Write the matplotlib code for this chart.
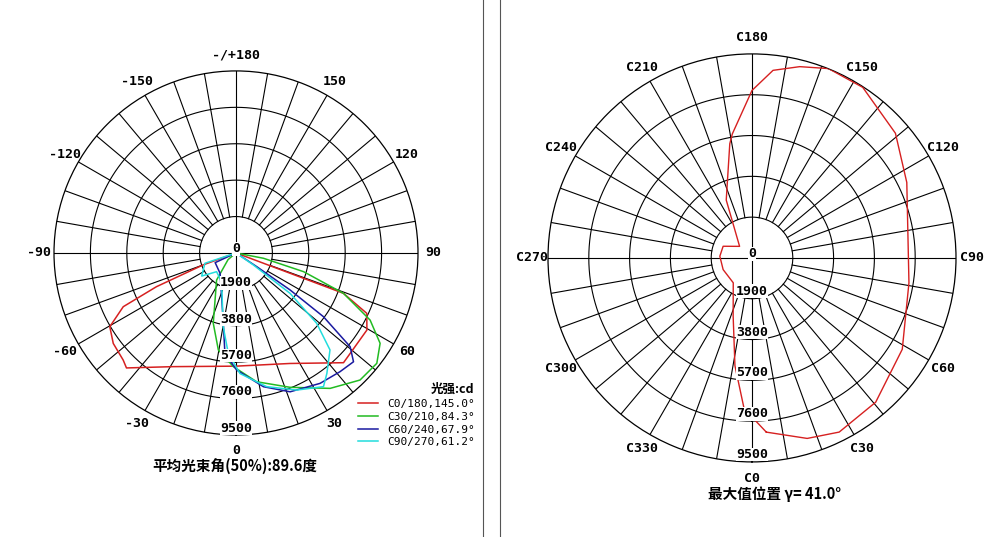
import numpy as np
import matplotlib
matplotlib.use("Agg")
import matplotlib.pyplot as plt

plt.rcParams['font.family'] = ['Noto Sans CJK SC', 'DejaVu Sans']

# ---- data (angles in degrees, intensity in cd) ----
red_ang = [-90, -70, -67, -64.5, -59.7, -53.6, -46.5, -43.6, -28.9, 0, 26, 44.4, 48.6, 59.5, 65.2, 69.4, 69.4, 90]
red_val = [0, 1820, 4510, 6520, 7630, 7960, 8120, 8290, 6780, 5910, 6420, 8020, 7940, 7930, 7520, 5990, 3020, 0]
green_ang = [-90, -50, -35.6, -17.9, -10.3, -1.3, 9.1, 21.9, 34.8, 44.3, 51.9, 57.9, 63.4, 69.4, 74.5, 79, 90]
green_val = [0, 540, 1740, 3860, 5150, 5940, 6810, 7560, 8610, 9270, 9340, 8880, 7830, 5990, 3660, 1460, 0]
blue_ang = [-90, -65, -38, -10.2, -6.3, 0.3, 11.6, 21.3, 32.8, 41.2, 47.2, 50.6, 53.9, 55.6, 56.5, 90]
blue_val = [0, 1200, 1350, 3730, 5280, 6110, 7130, 7780, 8100, 8240, 8360, 7710, 5650, 3420, 1300, 0]
cyan_ang = [-90, -71.6, -56, -46, -26.6, -9.8, -4.4, 1.9, 12.9, 23.9, 33.2, 37, 44.1, 48.9, 53.2, 55.3, 90]
cyan_val = [0, 1710, 2160, 1410, 1680, 3910, 5260, 6300, 7160, 7830, 8340, 7880, 7050, 5590, 3530, 1100, 0]
series_names = ["C0/180,145.0°", "C30/210,84.3°", "C60/240,67.9°", "C90/270,61.2°"]
series_colors = ["#d62020", "#22bb22", "#1a1aa0", "#22dddd"]

iso_ang = [4.7, 17, 26.6, 40.6, 58.7, 81, 116, 131, 147, 158, 166, 173.6, 180, 189, 191, 204, 227,
           248, 267, 292, 323, 342, 351, 357, 364.7]
iso_val = [8140, 8790, 9070, 8850, 8190, 7400, 8020, 8850, 9470, 9510, 9180, 8790, 7800, 5850, 5420,
           2950, 790, 1450, 1500, 1450, 1450, 2840, 5080, 7030, 8140]

rings = [1900, 3800, 5700, 7600, 9500]
left_ticks = ["0", "30", "60", "90", "120", "150", "-/+180", "-150", "-120", "-90", "-60", "-30"]
right_ticks = ["C0", "C30", "C60", "C90", "C120", "C150", "C180", "C210", "C240", "C270", "C300", "C330"]

fig = plt.figure(figsize=(10, 5.37), dpi=100)
lab_font = dict(family='DejaVu Sans Mono', fontweight='bold', fontsize=9.5)

def setup(ax, rmax, ticklabels, tick_r):
    ax.set_theta_zero_location('S')
    ax.set_theta_direction(1)
    ax.set_ylim(0, rmax)
    ax.grid(False)
    ax.set_xticks([]); ax.set_yticks([])
    ax.spines['polar'].set_linewidth(0.9)
    th = np.linspace(0, 2*np.pi, 361)
    for r in rings[:-1]:
        ax.plot(th, np.full_like(th, r), color='black', lw=0.8)
    for a in range(0, 360, 10):
        r0 = 0 if a % 90 == 0 else rings[0]
        ax.plot([np.radians(a)]*2, [r0, rmax], color='black', lw=0.8)
    for r in [0] + rings:
        ax.text(0, r - 350 if r else 120, str(r), ha='center', va='bottom' if r == 0 else 'center',
                bbox=dict(facecolor='white', edgecolor='none', pad=0.3), zorder=5, **lab_font)
    for i, t in enumerate(ticklabels):
        ax.text(np.radians(30*i), rmax*tick_r, t, ha='center', va='center', **lab_font)

axL = fig.add_axes([0.054, 0.19, 0.364, 0.678], projection='polar')
setup(axL, 9500, left_ticks, 1.085)
lines = []
for ang, val, c in zip([red_ang, green_ang, blue_ang, cyan_ang], [red_val, green_val, blue_val, cyan_val], series_colors):
    l, = axL.plot(np.radians(ang), val, color=c, lw=1.1, zorder=4)
    lines.append(l)

axR = fig.add_axes([0.548, 0.1397, 0.408, 0.76], projection='polar')
setup(axR, 9500, right_ticks, 1.08)
axR.plot(np.radians(iso_ang), iso_val, color='#d62020', lw=1.0, zorder=4)

leg = fig.legend(lines, series_names, loc='upper left', bbox_to_anchor=(0.348, 0.305), frameon=False,
                 prop=dict(family='DejaVu Sans Mono', size=8), handlelength=1.8, labelspacing=0.25,
                 title="光强:cd", title_fontproperties=dict(weight='bold', size=9))
leg._legend_box.align = "right"

fig.text(0.235, 0.133, "平均光束角(50%):89.6度", ha='center', va='center', fontsize=10.5, fontweight='bold')
fig.text(0.775, 0.08, "最大值位置 γ= 41.0°", ha='center', va='center', fontsize=10.5, fontweight='bold')

for x in [0.483, 0.5]:
    fig.add_artist(plt.Line2D([x, x], [0, 1], color='#555555', lw=0.8))

fig.savefig("out.png", dpi=100, facecolor='white')
